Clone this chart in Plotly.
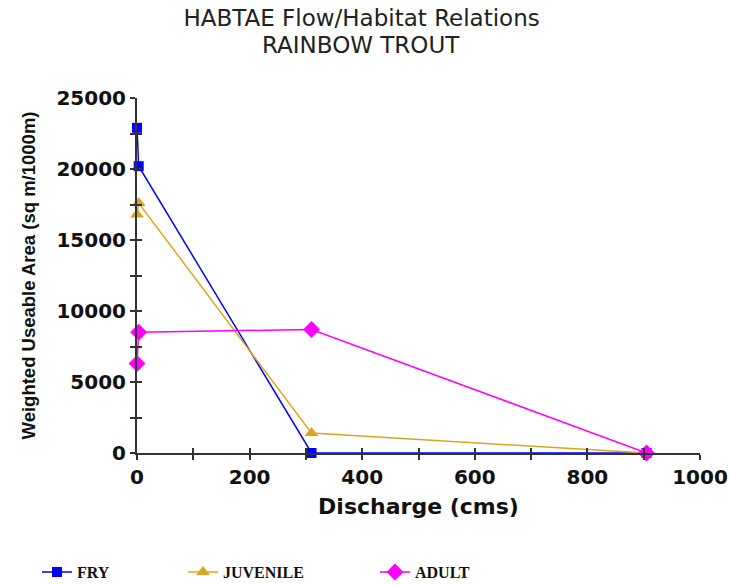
import plotly.graph_objects as go

discharge_fry = [0, 3, 310, 905]
wua_fry = [22900, 20200, 0, 0]
discharge_juv = [0, 3, 310, 905]
wua_juv = [16800, 17600, 1400, 0]
discharge_adult = [0, 3, 310, 905]
wua_adult = [6300, 8500, 8700, 0]

fig = go.Figure()
fig.add_trace(go.Scatter(x=discharge_fry, y=wua_fry, name="FRY", mode="lines+markers",
                         line=dict(color="#0000FF", width=1.5),
                         marker=dict(symbol="square", size=10, color="#0000FF"),
                         cliponaxis=False, legend="legend"))
fig.add_trace(go.Scatter(x=discharge_juv, y=wua_juv, name="JUVENILE", mode="lines+markers",
                         line=dict(color="#DAA520", width=1.5),
                         marker=dict(symbol="triangle-up", size=12, color="#DAA520"),
                         cliponaxis=False, legend="legend2"))
fig.add_trace(go.Scatter(x=discharge_adult, y=wua_adult, name="ADULT", mode="lines+markers",
                         line=dict(color="#FF00FF", width=1.5),
                         marker=dict(symbol="diamond", size=13, color="#FF00FF"),
                         cliponaxis=False, legend="legend3"))
# empty helper trace so the overlay (inner tick) axes get drawn
fig.add_trace(go.Scatter(x=[None], y=[None], xaxis="x2", yaxis="y2", showlegend=False,
                         hoverinfo="skip", mode="lines"))

tickfont = dict(family="DejaVu Sans", size=20, color="#111", weight="bold")
legfont = dict(family="Liberation Serif", size=16, color="#111", weight="bold")

def leg(x):
    return dict(x=x, y=0.022, xref="container", yref="container", xanchor="left", yanchor="middle",
                orientation="h", font=legfont, bgcolor="rgba(0,0,0,0)")

plot_top, plot_bottom = 98, 453
def py(ypix):
    return (plot_bottom - ypix) / (plot_bottom - plot_top)

fig.update_layout(
    width=729, height=585,
    showlegend=True,
    margin=dict(l=137, r=29, t=plot_top, b=585 - plot_bottom),
    paper_bgcolor="white", plot_bgcolor="white",
    title=dict(text="HABTAE Flow/Habitat Relations",
               font=dict(family="DejaVu Sans", size=23, color="#222"),
               x=0.496, xanchor="center", xref="container",
               y=1 - 18 / 585, yanchor="middle", yref="container"),
    annotations=[dict(text="RAINBOW TROUT", x=(361 - 137) / 563, xref="paper", xanchor="center",
                      y=py(45), yref="paper", yanchor="middle", showarrow=False,
                      font=dict(family="DejaVu Sans", size=23, color="#222"))],
    xaxis=dict(range=[0, 1000], dtick=200, tick0=0, tickformat="d", showgrid=False, zeroline=False,
               showline=True, linecolor="#333", linewidth=2, automargin=False,
               ticks="outside", ticklen=5, tickwidth=2, tickcolor="#333",
               minor=dict(dtick=100, ticks="outside", ticklen=5, tickwidth=2, tickcolor="#333"),
               tickfont=tickfont,
               title=dict(text="Discharge (cms)", font=dict(family="DejaVu Sans", size=22, color="#111", weight="bold"), standoff=11)),
    yaxis=dict(range=[0, 25000], dtick=5000, tick0=0, tickformat="d", showgrid=False, zeroline=False,
               showline=True, linecolor="#333", linewidth=2, automargin=False,
               ticks="outside", ticklen=5, tickwidth=2, tickcolor="#333",
               minor=dict(dtick=2500, ticks="outside", ticklen=5, tickwidth=2, tickcolor="#333"),
               tickfont=tickfont,
               title=dict(text="Weighted Useable Area (sq m/1000m)", font=dict(family="Liberation Sans", size=18.5, color="#111", weight="bold"), standoff=16)),
    xaxis2=dict(overlaying="x", anchor="y2", range=[0, 1000], dtick=100, tick0=0, showgrid=False, zeroline=False,
                showline=False, ticks="inside", ticklen=5, tickwidth=2, tickcolor="#333",
                showticklabels=False, automargin=False),
    yaxis2=dict(overlaying="y", anchor="x2", range=[0, 25000], dtick=2500, tick0=0, showgrid=False, zeroline=False,
                showline=False, ticks="inside", ticklen=5, tickwidth=2, tickcolor="#333",
                showticklabels=False, automargin=False),
    legend=leg(37 / 729),
    legend2=leg(183 / 729),
    legend3=leg(375 / 729),
)

fig.write_html("out.html", config={"displayModeBar": False},
               post_script="document.body.style.margin='0px';")
